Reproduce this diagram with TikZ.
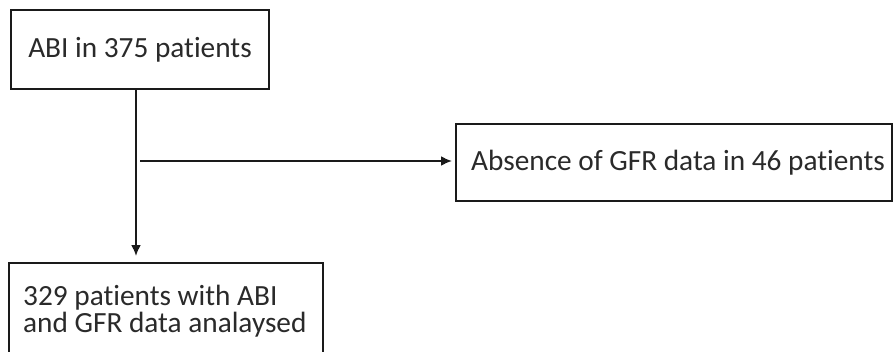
\documentclass[tikz,border=0pt]{standalone}
\usepackage{fontspec}
\setmainfont{Carlito}[Ligatures=NoCommon]
\usetikzlibrary{arrows.meta}
\definecolor{txt}{HTML}{2A2A2A}
\definecolor{ln}{HTML}{1A1A1A}
\tikzset{
  boxstyle/.style={draw=ln, line width=2pt, text=txt, font=\fontsize{29.3}{31}\selectfont, inner sep=0pt},
  btxt/.style={text=txt, font=\fontsize{29.3}{31}\selectfont, anchor=base west, inner sep=0pt},
  conn/.style={draw=ln, line width=2pt, -{Latex[length=11pt,width=10pt]}}
}
\begin{document}
\begin{tikzpicture}[x=1pt,y=1pt]
\useasboundingbox (0,0) rectangle (894,-351);
\clip (0,0) rectangle (894,-351);
\fill[white] (0,0) rectangle (894,-351);
\node[boxstyle, minimum width=258pt, minimum height=79pt] (top) at (140,-49.5) {ABI in 375 patients};
\node[boxstyle, minimum width=436pt, minimum height=77pt] (right) at (674,-162.5) {\hspace*{8pt}Absence of GFR data in 46 patients};
\node[boxstyle, anchor=north west, minimum width=314pt, minimum height=110pt] (bottom) at (8,-262) {};
\node[btxt] (btext) at (23,-305) {329 patients with ABI};
\node[btxt] (btext2) at (23,-332) {and GFR data analaysed};
\coordinate (vstart) at (136,-89);
\coordinate (hstart) at (140,-161);
\draw[conn, shorten >=6pt] (vstart) -- (vstart |- bottom.north);
\draw[conn, shorten >=3pt] (hstart) -- (hstart -| right.west);
\end{tikzpicture}
\end{document}
